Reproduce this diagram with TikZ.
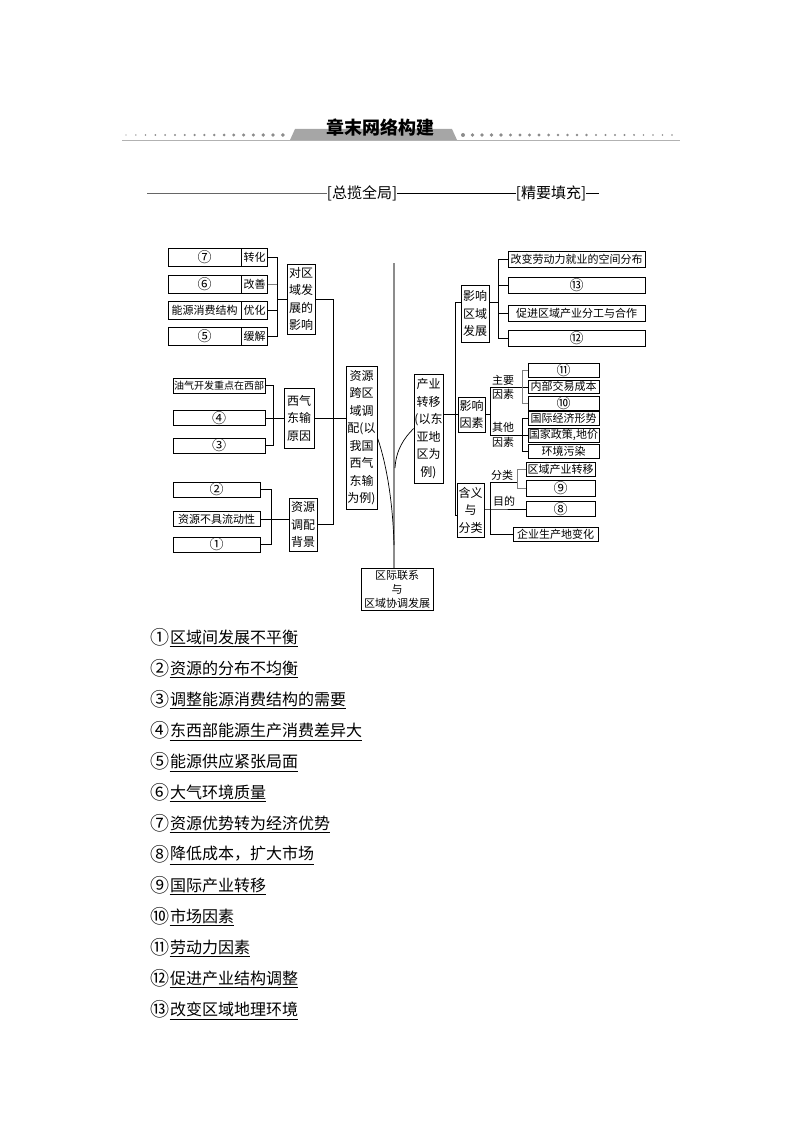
\documentclass[tikz,border=0pt]{standalone}
\usepackage{fontspec}
\setmainfont{Noto Sans CJK SC}
\usetikzlibrary{calc}
\newcommand\fsz[2]{\fontsize{#1}{#2}\selectfont}
\newcommand\cnum[1]{{\fsz{14}{14}#1}}

\begin{document}
\begin{tikzpicture}[x=1pt, y=-1pt, line width=0.7pt,
  box/.style={draw, inner sep=0pt, align=center, font=\fsz{11}{13}},
  tall/.style={draw, inner sep=0pt, align=center, font=\fsz{12}{17.5}},
  lbl/.style={inner sep=0pt, font=\fsz{11}{13}},
  item/.style={inner sep=0pt, anchor=west, font=\fsz{16}{18}}]
\useasboundingbox (0,0) rectangle (794,1123);

% header band
\draw[black!30, line width=0.8] (122,140) -- (680,140);
\foreach \i in {0,...,16} \fill[black!45] (126+9.8*\i,135) circle ({0.7+0.08*\i});
\foreach \i in {0,...,22} \fill[black!45] (463+9.5*\i,135) circle ({2-0.055*\i});
\fill[black!35] (290,140) -- (295,129) -- (452,129) -- (457,140) -- cycle;
\node[font=\fsz{18}{20}\bfseries] (title) at (380,128) {章末网络构建};

\node[font=\fsz{15}{17}, inner sep=0pt] (zlqj) at (362,193) {[总揽全局]};
\node[font=\fsz{15}{17}, inner sep=0pt] (jytc) at (551,193) {[精要填充]};
\draw[black!60] (147,193) -- (zlqj.west);
\draw (zlqj.east) -- (jytc.west);
\draw (jytc.east) -- ++(13,0);

% left: influence on regional development
\node[box, minimum width=73, minimum height=18] (q7) at (204.5,257) {\cnum{⑦}};
\node[box, minimum width=26, minimum height=18, anchor=west] (zh) at (q7.east) {转化};
\node[box, minimum width=73, minimum height=18] (q6) at (204.5,284) {\cnum{⑥}};
\node[box, minimum width=26, minimum height=18, anchor=west] (gs) at (q6.east) {改善};
\node[box, minimum width=73, minimum height=18] (nyxf) at (204.5,310) {能源消费结构};
\node[box, minimum width=26, minimum height=18, anchor=west] (yh) at (nyxf.east) {优化};
\node[box, minimum width=73, minimum height=18] (q5) at (204.5,336) {\cnum{⑤}};
\node[box, minimum width=26, minimum height=18, anchor=west] (hj) at (q5.east) {缓解};
\node[tall, minimum width=28, minimum height=70] (yxfz) at (301,299) {对区\\域发\\展的\\影响};
\coordinate (k1) at (277,299);
\draw (zh.east) -| (k1) (hj.east) -| (k1);
\draw[black!50] (gs.east) -- (gs.east -| k1);
\draw (yh.east) -- (yh.east -| k1);
\draw (k1) -- (yxfz.west);

% left: reasons of the west-east gas project
\node[box, font=\fsz{10}{12}, minimum width=92, minimum height=15] (yqkf) at (219,385.5) {油气开发重点在西部};
\node[box, minimum width=92, minimum height=15] (q4) at (219,418) {\cnum{④}};
\node[box, minimum width=92, minimum height=15] (q3) at (219,445.5) {\cnum{③}};
\node[tall, minimum width=30, minimum height=60] (xqds) at (299,418) {西气\\东输\\原因};
\coordinate (k2) at (273,418);
\draw (yqkf.east) -| (k2) (q3.east) -| (k2);
\draw (q4.east) -- (xqds.west);

% left: background
\node[box, minimum width=87, minimum height=15] (q2) at (216.5,489.5) {\cnum{②}};
\node[box, minimum width=87, minimum height=15] (bldx) at (216.5,519) {资源不具流动性};
\node[box, minimum width=87, minimum height=15] (q1) at (216.5,544.5) {\cnum{①}};
\node[tall, minimum width=28, minimum height=53] (zydp) at (303,524.5) {资源\\调配\\背景};
\coordinate (k3) at (271,519);
\draw (q2.east) -| (k3) (q1.east) -| (k3);
\draw (bldx.east) -- (bldx.east -| zydp.west);

% centre
\node[tall, minimum width=31, minimum height=143] (zyky) at (361.5,437.5) {资源\\跨区\\域调\\配(以\\我国\\西气\\东输\\为例)};
\coordinate (k4) at (333,299);
\draw (yxfz.east) -- (k4) |- (zydp.east);
\draw (xqds.east) -- (xqds.east -| zyky.west);

\node[box, font=\fsz{11}{14}, minimum width=72, minimum height=42] (qjlx) at (397,589) {区际联系\\与\\区域协调发展};
\coordinate (ax) at (394,263);
\draw[black!45, line width=1.6] (ax) -- (ax |- qjlx.north);

\node[tall, minimum width=29, minimum height=109] (cyzy) at (428.5,428.5) {产业\\转移\\(以东\\亚地\\区为\\例)};
\draw (zyky.east) .. controls (387,465) and (393,505) .. (394,545);
\draw (cyzy.west) .. controls (404,438) and (396,450) .. (395,468);

% right
\node[tall, minimum width=28, minimum height=57] (yxqy) at (475,313.5) {影响\\区域\\发展};
\node[tall, minimum width=27, minimum height=35] (yxys) at (471.5,414.5) {影响\\因素};
\node[tall, minimum width=27, minimum height=54] (hyfl) at (470.5,510) {含义\\与\\分类};
\coordinate (r1) at (455,302);
\coordinate (r2) at (455,515);
\draw (r1 -| yxqy.west) -- (r1) -- (r2) -- (r2 -| hyfl.west);
\draw (cyzy.east |- yxys.west) -- (yxys.west);

% right: influence on regional development
\node[box, minimum width=137, minimum height=16] (ldjy) at (576.5,259) {改变劳动力就业的空间分布};
\node[box, minimum width=137, minimum height=16] (q13) at (576.5,285) {\cnum{⑬}};
\node[box, minimum width=137, minimum height=16] (fgfz) at (576.5,313) {促进区域产业分工与合作};
\node[box, minimum width=137, minimum height=16] (q12) at (576.5,338.5) {\cnum{⑫}};
\coordinate (k5) at (498,302);
\draw (yxqy.east |- k5) -- (k5);
\draw (ldjy.west) -| (k5) (q12.west) -| (k5);
\draw (q13.west) -- (q13.west -| k5);
\draw (fgfz.west) -- (fgfz.west -| k5);

% right: factors
\node[box, minimum width=71, minimum height=14] (q11) at (563.5,370) {\cnum{⑪}};
\node[box, minimum width=71, minimum height=13] (jycb) at (563.5,386.5) {内部交易成本};
\node[box, minimum width=71, minimum height=14] (q10) at (563.5,403.5) {\cnum{⑩}};
\node[box, minimum width=71, minimum height=14] (gjjj) at (563.5,418.5) {国际经济形势};
\node[box, minimum width=71, minimum height=14] (zcdj) at (563.5,435) {国家政策,地价};
\node[box, minimum width=71, minimum height=14] (hjwr) at (563.5,451) {环境污染};
\coordinate (m1) at (490,387);
\coordinate (m2) at (490,435);
\draw (yxys.east) -- (yxys.east -| m1);
\draw (m1) -- (m2);
\draw (m1) -- (m1 -| jycb.west);
\draw (m2) -- (m2 -| zcdj.west);
\coordinate (k7) at (522,387);
\coordinate (k8) at (522,435);
\draw[black!50] (q11.west) -| (k7) (q10.west) -| (k7);
\draw (gjjj.west) -| (k8) (hjwr.west) -| (k8);
\node[lbl] (zy1) at (503,380) {主要};
\node[lbl] (zy2) at (503,394) {因素};
\node[lbl] (qt1) at (503,427) {其他};
\node[lbl] (qt2) at (503,442) {因素};

% right: meaning and types
\node[box, minimum width=69, minimum height=14] (qyzy) at (560.5,469.5) {区域产业转移};
\node[box, minimum width=69, minimum height=16] (q9) at (560.5,488) {\cnum{⑨}};
\node[box, minimum width=69, minimum height=15] (q8) at (560.5,509) {\cnum{⑧}};
\node[box, minimum width=85, minimum height=14] (qyscd) at (555.5,534) {企业生产地变化};
\coordinate (n1) at (490,482);
\coordinate (n2) at (490,534);
\coordinate (k9) at (490,509);
\coordinate (k10) at (517,482);
\draw (n1) -- (n2) -- (qyscd.west);
\draw (k9 -| hyfl.east) -- (k9) -- (q8.west);
\draw (n1) -- (k10);
\draw[black!50] (qyzy.west) -| (k10) (q9.west) -| (k10);
\node[lbl] (fl) at (502,475) {分类};
\node[lbl] (md) at (504,501.5) {目的};

% answers
\foreach \n/\txt [count=\i from 0] in {①/区域间发展不平衡, ②/资源的分布不均衡, ③/调整能源消费结构的需要,
  ④/东西部能源生产消费差异大, ⑤/能源供应紧张局面, ⑥/大气环境质量, ⑦/资源优势转为经济优势,
  ⑧/降低成本，扩大市场, ⑨/国际产业转移, ⑩/市场因素, ⑪/劳动力因素, ⑫/促进产业结构调整, ⑬/改变区域地理环境} {
  \node[item, font=\fsz{19}{19}] (num\i) at (150,637+31*\i) {\n};
  \node[item] (ans\i) at (num\i.east) {\txt};
  \draw[line width=0.6] ([yshift=-2]ans\i.south west) -- ([yshift=-2]ans\i.south east);
}
\end{tikzpicture}
\end{document}
